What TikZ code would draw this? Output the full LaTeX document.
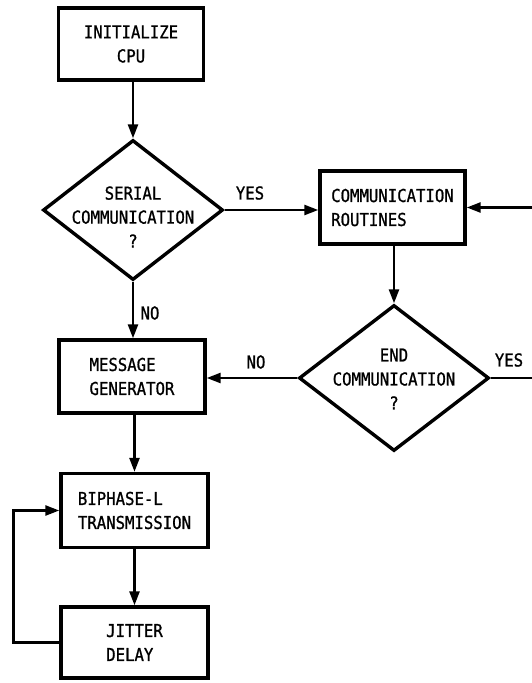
\documentclass[tikz,border=0pt]{standalone}
\usepackage{fontspec}
\usetikzlibrary{arrows.meta,shapes.geometric}
\newfontfamily\labfont[FakeStretch=0.88,FakeBold=1]{DejaVu Sans Mono}
\begin{document}
\begin{tikzpicture}[x=1pt,y=-1pt,
  lab/.style={font={\labfont\fontsize{17.8}{24}\selectfont}, align=left, inner sep=0pt},
  box/.style={lab, draw, line width=3.4pt, rectangle},
  dia/.style={draw, line width=3.4pt, diamond, inner sep=0pt},
  conn/.style={line width=2.5pt, -{Triangle[length=14pt,width=10pt]}}]
\useasboundingbox (0,0) rectangle (532,683);
\clip (0,0) rectangle (532,683);
% nodes
\node[box, align=center, minimum width=145pt, minimum height=72pt] (init) at (131,44) {INITIALIZE\\CPU};
\node[dia, minimum width=180pt, minimum height=140pt] (d1) at (133,210) {};
\node[lab, align=center] (d1t) at (133,217) {SERIAL\\COMMUNICATION\\?};
\node[box, minimum width=145pt, minimum height=73pt] (comm) at (392.5,207.5) {COMMUNICATION\\ROUTINES};
\node[dia, minimum width=190pt, minimum height=146pt] (d2) at (394,378) {};
\node[lab, align=center] (d2t) at (394,379) {END\\COMMUNICATION\\?};
\node[box, minimum width=146pt, minimum height=73pt] (msg) at (132,376.5) {MESSAGE\\GENERATOR};
\node[box, minimum width=147pt, minimum height=74pt] (bip) at (134.5,510.5) {BIPHASE-L\\TRANSMISSION};
\node[box, minimum width=147pt, minimum height=71pt] (jit) at (134.5,642.5) {JITTER\\DELAY};
% labels
\node[lab] (yes1) at (250,193) {YES};
\node[lab] (yes2) at (509,360) {YES};
\node[lab] (no1) at (150,313) {NO};
\node[lab] (no2) at (256,362) {NO};
% connectors
\draw[conn] (init.south -| d1.north) -- (d1.north);
\draw[conn] (d1.east) -- (d1.east -| comm.west);
\draw[conn] (comm.south -| d2.north) -- (d2.north);
\draw[conn] (d1.south) -- (d1.south |- msg.north);
\draw[conn] (d2.west) -- (d2.west -| msg.east);
\draw[conn] (msg.south -| bip.north) -- (bip.north);
\draw[conn] (bip.south) -- (jit.north);
\draw[conn] (jit.west) -- ++(-46,0) |- (bip.west);
\draw[conn] (d2.east) -- ++(60,0) |- (comm.east);
\end{tikzpicture}
\end{document}
